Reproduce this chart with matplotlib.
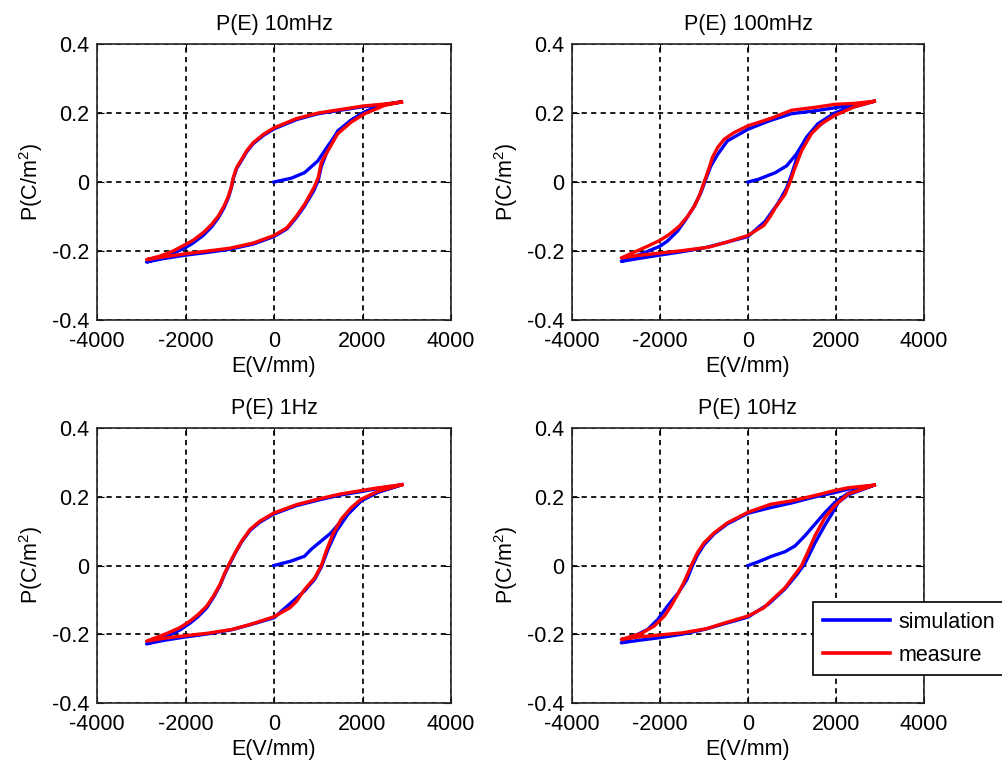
import matplotlib
matplotlib.use("Agg")
import matplotlib.pyplot as plt

# ---------------- data ----------------
titles = ["P(E) 10mHz", "P(E) 100mHz", "P(E) 1Hz", "P(E) 10Hz"]
series_names = ["simulation", "measure"]
x_ticks = [-4000, -2000, 0, 2000, 4000]
y_ticks = [-0.4, -0.2, 0, 0.2, 0.4]
x_tick_labels = ["-4000", "-2000", "0", "2000", "4000"]
y_tick_labels = ["-0.4", "-0.2", "0", "0.2", "0.4"]

# Each path: simulation = virgin curve -> descending branch -> ascending branch,
# measure = descending branch -> ascending branch.

# 10 mHz
e_sim_10mhz = [0, 390, 690, 990, 1220, 1440, 1750, 2050, 2500, 2880,
               2500, 2000, 1500, 1000, 510, 0, -240, -470, -620, -730, -845, -920, -960, -1030, -1130, -1260, -1410, -1600, -1830, -2000, -2280, -2580, -2880,
               -2500, -2000, -1500, -1000, -470, 0, 290, 500, 690, 900, 1000, 1070, 1220, 1440, 1750, 2050, 2500, 2880]
p_sim_10mhz = [0.0, 0.011, 0.027, 0.061, 0.105, 0.144, 0.179, 0.203, 0.225, 0.232,
               0.224, 0.218, 0.208, 0.198, 0.181, 0.154, 0.135, 0.111, 0.087, 0.063, 0.039, 0.010, -0.015, -0.045, -0.075, -0.104, -0.130, -0.155, -0.177, -0.190, -0.207, -0.220, -0.232,
               -0.222, -0.212, -0.204, -0.195, -0.180, -0.158, -0.136, -0.104, -0.070, -0.025, 0.005, 0.045, 0.095, 0.148, 0.180, 0.203, 0.224, 0.232]
e_meas_10mhz = [2880, 2500, 2000, 1500, 1000, 510, 0, -240, -470, -620, -730, -845, -920, -960, -1030, -1130, -1260, -1410, -1600, -1830, -2000, -2280, -2580, -2880,
                -2500, -2000, -1500, -1000, -470, 0, 290, 500, 690, 900, 1000, 1070, 1220, 1440, 1750, 2050, 2500, 2880]
p_meas_10mhz = [0.232, 0.226, 0.220, 0.210, 0.200, 0.184, 0.157, 0.138, 0.114, 0.090, 0.066, 0.042, 0.013, -0.012, -0.041, -0.070, -0.099, -0.123, -0.147, -0.169, -0.181, -0.200, -0.215, -0.225,
                -0.217, -0.208, -0.200, -0.192, -0.177, -0.155, -0.133, -0.100, -0.065, -0.017, 0.013, 0.057, 0.091, 0.140, 0.174, 0.198, 0.222, 0.232]

# 100 mHz
e_sim_100mhz = [0, 240, 620, 880, 1100, 1290, 1520, 1820, 2200, 2870,
                2420, 1970, 1500, 990, 500, 0, -470, -690, -845, -960, -1070, -1220, -1410, -1600, -1830, -2000, -2360, -2880,
                -2500, -2010, -1500, -960, -500, 0, 390, 690, 880, 990, 1140, 1330, 1590, 1970, 2420, 2870]
p_sim_100mhz = [0.0, 0.008, 0.027, 0.047, 0.081, 0.120, 0.154, 0.183, 0.210, 0.234,
                0.225, 0.215, 0.206, 0.198, 0.178, 0.153, 0.119, 0.080, 0.046, 0.008, -0.031, -0.070, -0.108, -0.142, -0.171, -0.186, -0.205, -0.230,
                -0.222, -0.212, -0.202, -0.190, -0.175, -0.158, -0.114, -0.060, -0.017, 0.022, 0.081, 0.130, 0.169, 0.200, 0.222, 0.234]
e_meas_100mhz = [2870, 2420, 1970, 1500, 990, 510, 0, -320, -540, -690, -810, -880, -960, -1030, -1110, -1220, -1370, -1560, -1790, -2000, -2280, -2580, -2880,
                 -2500, -2000, -1500, -900, -500, 0, 360, 510, 620, 840, 955, 1070, 1220, 1440, 1670, 1970, 2420, 2870]
p_meas_100mhz = [0.234, 0.228, 0.225, 0.216, 0.208, 0.184, 0.163, 0.143, 0.124, 0.100, 0.071, 0.042, 0.013, -0.012, -0.041, -0.070, -0.099, -0.128, -0.152, -0.169, -0.186, -0.203, -0.220,
                 -0.213, -0.206, -0.199, -0.189, -0.175, -0.155, -0.126, -0.099, -0.075, -0.036, 0.000, 0.042, 0.091, 0.140, 0.169, 0.193, 0.218, 0.234]

# 1 Hz
e_sim_1hz = [0, 390, 690, 840, 1290, 1590, 1970, 2350, 2890,
             2350, 1970, 1500, 990, 500, 0, -320, -540, -730, -880, -1000, -1110, -1220, -1370, -1520, -1710, -1900, -2130, -2430, -2880,
             -2500, -2010, -1500, -960, -500, 0, 390, 690, 920, 1070, 1220, 1410, 1670, 1970, 2350, 2890]
p_sim_1hz = [0.0, 0.013, 0.027, 0.047, 0.095, 0.140, 0.190, 0.214, 0.235,
             0.224, 0.215, 0.205, 0.190, 0.174, 0.150, 0.126, 0.102, 0.069, 0.035, 0.005, -0.024, -0.058, -0.093, -0.123, -0.148, -0.168, -0.188, -0.207, -0.228,
             -0.218, -0.208, -0.199, -0.187, -0.171, -0.152, -0.108, -0.074, -0.040, -0.004, 0.047, 0.100, 0.149, 0.188, 0.213, 0.235]
e_meas_1hz = [2890, 2350, 1970, 1500, 990, 510, 0, -320, -540, -730, -880, -1000, -1110, -1220, -1370, -1520, -1710, -1900, -2130, -2430, -2880,
              -2500, -2000, -1500, -950, -500, 0, 360, 510, 690, 920, 1070, 1180, 1330, 1520, 1750, 1970, 2350, 2890]
p_meas_1hz = [0.235, 0.226, 0.218, 0.208, 0.193, 0.177, 0.153, 0.129, 0.105, 0.071, 0.037, 0.008, -0.021, -0.055, -0.089, -0.118, -0.142, -0.162, -0.181, -0.198, -0.220,
              -0.212, -0.204, -0.197, -0.186, -0.170, -0.149, -0.123, -0.104, -0.070, -0.036, 0.000, 0.042, 0.091, 0.135, 0.169, 0.193, 0.216, 0.235]

# 10 Hz
e_sim_10hz = [0, 240, 540, 840, 1070, 1290, 1520, 1750, 1970, 2270, 2870,
              2270, 1970, 1500, 990, 500, 0, -470, -770, -1000, -1150, -1260, -1390, -1580, -1830, -2050, -2280, -2580, -2880,
              -2500, -2010, -1500, -960, -500, 0, 470, 840, 1100, 1290, 1520, 1750, 1900, 2050, 2270, 2870]
p_sim_10hz = [0.0, 0.011, 0.027, 0.040, 0.057, 0.086, 0.120, 0.154, 0.183, 0.210, 0.234,
              0.222, 0.212, 0.199, 0.182, 0.168, 0.152, 0.121, 0.092, 0.060, 0.030, 0.000, -0.041, -0.079, -0.118, -0.157, -0.186, -0.205, -0.225,
              -0.218, -0.210, -0.200, -0.185, -0.168, -0.150, -0.112, -0.068, -0.028, 0.005, 0.065, 0.118, 0.149, 0.183, 0.205, 0.234]
e_meas_10hz = [2870, 2270, 1970, 1500, 990, 510, 0, -470, -770, -1000, -1150, -1260, -1360, -1460, -1600, -1750, -1900, -2130, -2430, -2880,
               -2500, -2000, -1500, -950, -500, 0, 360, 470, 840, 1100, 1220, 1370, 1520, 1750, 1970, 2270, 2870]
p_meas_10hz = [0.234, 0.226, 0.218, 0.203, 0.188, 0.178, 0.155, 0.124, 0.095, 0.066, 0.037, 0.008, -0.021, -0.050, -0.084, -0.118, -0.147, -0.176, -0.198, -0.215,
               -0.208, -0.202, -0.196, -0.184, -0.166, -0.147, -0.123, -0.109, -0.065, -0.021, 0.000, 0.042, 0.086, 0.140, 0.174, 0.208, 0.234]

sim_e = [e_sim_10mhz, e_sim_100mhz, e_sim_1hz, e_sim_10hz]
sim_p = [p_sim_10mhz, p_sim_100mhz, p_sim_1hz, p_sim_10hz]
meas_e = [e_meas_10mhz, e_meas_100mhz, e_meas_1hz, e_meas_10hz]
meas_p = [p_meas_10mhz, p_meas_100mhz, p_meas_1hz, p_meas_10hz]

# ---------------- styling ----------------
plt.rcParams["font.family"] = ["Liberation Sans", "DejaVu Sans"]
plt.rcParams["mathtext.default"] = "regular"
FS = 15.5

W, H = 1002, 765
fig = plt.figure(figsize=(W / 100, H / 100), dpi=100)

# axes boxes in pixels (left, top, right, bottom)
boxes = [(97, 44, 451, 320), (572, 44, 924, 320),
         (97, 428, 451, 703), (572, 428, 924, 703)]

axes = []
for i, (l, t, r, b) in enumerate(boxes):
    ax = fig.add_axes([l / W, 1 - b / H, (r - l) / W, (b - t) / H])
    axes.append(ax)
    ax.plot(sim_e[i], sim_p[i], color="#0000ff", lw=2.4, label=series_names[0],
            solid_joinstyle="round")
    ax.plot(meas_e[i], meas_p[i], color="#ff0000", lw=2.4, label=series_names[1],
            solid_joinstyle="round")
    ax.set_xlim(-4000, 4000)
    ax.set_ylim(-0.4, 0.4)
    ax.set_xticks(x_ticks)
    ax.set_xticklabels(x_tick_labels)
    ax.set_yticks(y_ticks)
    ax.set_yticklabels(y_tick_labels)
    ax.grid(True, color="black", linestyle=(0, (3, 2.5)), linewidth=1.25)
    ax.tick_params(direction="in", length=5, width=0.8, top=True, right=True,
                   labelsize=FS, colors="black")
    ax.tick_params(axis="x", pad=8)
    ax.tick_params(axis="y", pad=5.5)
    for s in ax.spines.values():
        s.set_linewidth(1.2)
        s.set_color("#262626")
    ax.set_title(titles[i], fontsize=FS, pad=10)
    ax.set_xlabel("E(V/mm)", fontsize=FS, labelpad=3)
    ax.set_ylabel("P(C/m$^2$)", fontsize=FS, labelpad=5)

leg = axes[3].legend(loc="upper left", bbox_to_anchor=(0.685, 0.367),
                     fontsize=FS, frameon=True, fancybox=False, framealpha=1,
                     edgecolor="black", handlelength=3.1, handletextpad=0.4,
                     borderpad=0.45, labelspacing=0.55, borderaxespad=0)
leg.get_frame().set_linewidth(1.2)
for h in leg.get_lines():
    h.set_linewidth(2.6)

fig.savefig("out.png", dpi=100)
